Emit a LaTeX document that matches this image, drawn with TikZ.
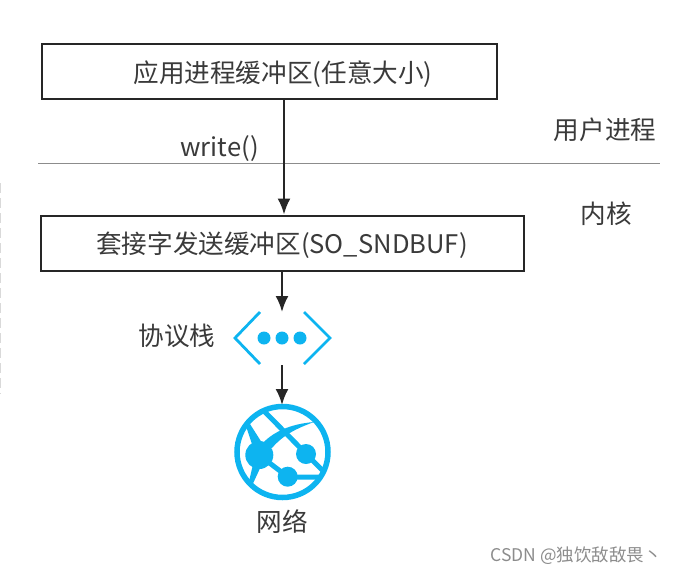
\documentclass[tikz,border=0pt]{standalone}
\usepackage{fontspec}
\setmainfont{Noto Sans CJK SC}
\usetikzlibrary{arrows.meta}
\definecolor{netblue}{HTML}{0DB4F0}
\definecolor{inkgray}{HTML}{3A3A3A}
\tikzset{
  bufbox/.style={draw=black!85, line width=2pt, minimum height=55pt, inner sep=0pt},
  flow/.style={draw=black!85, line width=2.2pt, -{Latex[length=16pt,width=13pt]}},
  lbl/.style={font=\fontsize{25.6}{26}\selectfont, text=inkgray, inner sep=0pt},
  netline/.style={netblue, line width=5pt},
}
\begin{document}
\begin{tikzpicture}[x=1pt,y=-1pt]
\useasboundingbox (0,0) rectangle (675,574);
\node[bufbox, minimum width=455pt] (appbuf) at (269.5,71.5) {};
\node[lbl] (applbl) at (283,74) {应用进程缓冲区(任意大小)};
\node[bufbox, minimum width=483pt] (sndbuf) at (282.5,243) {};
\node[lbl] (sndlbl) at (282,245) {套接字发送缓冲区(SO\_SNDBUF)};
\coordinate (splitl) at (38,163);
\coordinate (splitr) at (660,163);
\draw[black!45, line width=0.7pt] (splitl) -- (splitr);
\node[lbl] (writelbl) at (219.5,149) {write()};
\node[lbl] (userlbl) at (605,130) {用户进程};
\node[lbl] (kernlbl) at (606,214) {内核};
\node[lbl] (stacklbl) at (177,336) {协议栈};
\node[lbl] (netlbl) at (282,522) {网络};
\node[font=\fontsize{17.5}{18}\selectfont, text=black!45, inner sep=0pt] (marklbl) at (576,556) {CSDN @独饮敌敌畏丶};
% dashed edge at the far left
\coordinate (edgetop) at (0,183);
\coordinate (edgebot) at (0,394);
\draw[black!15, line width=1.5pt, dash pattern=on 10pt off 5pt] (edgetop) -- (edgebot);
% stack icon
\coordinate (stacktop) at (282,312);
\coordinate (stackbot) at (282,365);
\draw[netline, line width=2.8pt] (260,312) -- (235,338) -- (260,364);
\draw[netline, line width=2.8pt] (304,312) -- (330,338) -- (304,364);
\foreach \px in {264,282,300}
  \fill[netblue] (\px,338) circle (6.5);
% globe icon
\coordinate (globetop) at (282,405);
\draw[netblue, line width=5.5pt] (282.5,452) circle (45.5);
\begin{scope}
\clip (282.5,452) circle (45);
\draw[netline] (264,411) -- (326,474);
\fill[netblue] (260,446) .. controls (272,432) and (290,424) .. (314,422)
  .. controls (298,428) and (284,434) .. (272,448) -- cycle;
\fill[netblue] (246,426) -- (250,424) -- (264,446) -- (254,450) -- cycle;
\fill[netblue] (254,460) -- (262,464) -- (250,490) -- (247,490) -- cycle;
\draw[netline] (259,455) -- (288,477) -- (326,477);
\end{scope}
\fill[netblue] (259.3,455) circle (14);
\fill[netblue] (306,454) circle (10);
\fill[netblue] (287.7,476.7) circle (10);
\draw[flow] (appbuf.south -| 284,0) -- (sndbuf.north -| 284,0);
\draw[flow] (sndbuf.south -| stacktop) -- (stacktop);
\draw[flow] (stackbot) -- (globetop);
\end{tikzpicture}
\end{document}
